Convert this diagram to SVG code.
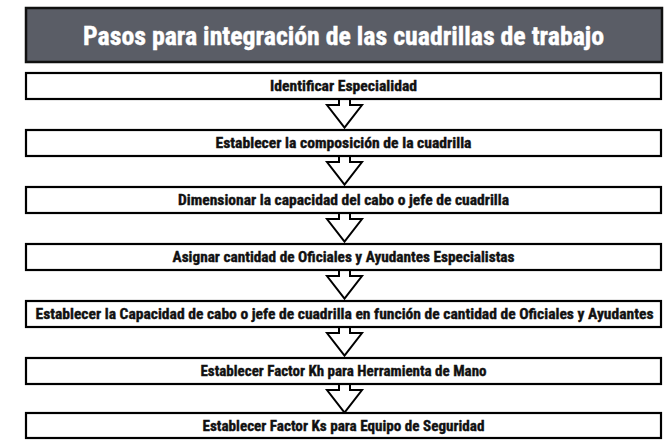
<svg xmlns="http://www.w3.org/2000/svg" width="668" height="440" viewBox="0 0 668 440">
<defs>
<style>
.bg{fill:#ffffff}
.title{fill:#5a5d66;stroke:#111;stroke-width:2.5}
.ttl{font-family:"Roboto Condensed",Roboto,"Liberation Sans",sans-serif;font-weight:bold;font-size:26px;fill:#ffffff;stroke:#ffffff;stroke-width:0.4;text-anchor:middle}
.box{fill:#ffffff;stroke:#000;stroke-width:2.2}
.lbl{font-family:"Roboto Condensed",Roboto,"Liberation Sans",sans-serif;font-weight:bold;font-size:14px;fill:#111;stroke:#111;stroke-width:0.35;text-anchor:middle}
.arr{fill:#ffffff;stroke:#000;stroke-width:2;stroke-linejoin:miter}
</style>
<path id="a" class="arr" d="M339,0 V6 H327 L344.5,28.5 L362,6 H350 V0"/>
</defs>
<rect class="bg" width="668" height="440"/>
<g id="title">
<rect class="title" x="26" y="8" width="636" height="54"/>
<text class="ttl" x="343.5" y="44.5" textLength="521" lengthAdjust="spacingAndGlyphs">Pasos para integración de las cuadrillas de trabajo</text>
</g>
<g id="connectors">
<use href="#a" y="99"/>
<use href="#a" y="156"/>
<use href="#a" y="213"/>
<use href="#a" y="270"/>
<use href="#a" y="327"/>
<use href="#a" y="384"/>
</g>
<g id="n1">
<rect class="box" x="26" y="73" width="635" height="26"/>
<text class="lbl" x="343.5" y="91" textLength="147" lengthAdjust="spacingAndGlyphs">Identificar Especialidad</text>
</g>
<g id="n2">
<rect class="box" x="26" y="130" width="635" height="26"/>
<text class="lbl" x="343.5" y="148" textLength="256" lengthAdjust="spacingAndGlyphs">Establecer la composición de la cuadrilla</text>
</g>
<g id="n3">
<rect class="box" x="26" y="187" width="635" height="26"/>
<text class="lbl" x="343.5" y="205" textLength="331" lengthAdjust="spacingAndGlyphs">Dimensionar la capacidad del cabo o jefe de cuadrilla</text>
</g>
<g id="n4">
<rect class="box" x="26" y="244" width="635" height="26"/>
<text class="lbl" x="343.5" y="262" textLength="342" lengthAdjust="spacingAndGlyphs">Asignar cantidad de Oficiales y Ayudantes Especialistas</text>
</g>
<g id="n5">
<rect class="box" x="26" y="301" width="635" height="26"/>
<text class="lbl" x="344.5" y="319" textLength="618" lengthAdjust="spacingAndGlyphs">Establecer la Capacidad de cabo o jefe de cuadrilla en función de cantidad de Oficiales y Ayudantes</text>
</g>
<g id="n6">
<rect class="box" x="26" y="358" width="635" height="26"/>
<text class="lbl" x="343.5" y="376" textLength="286" lengthAdjust="spacingAndGlyphs">Establecer Factor Kh para Herramienta de Mano</text>
</g>
<g id="n7">
<rect class="box" x="26" y="413" width="635" height="25"/>
<text class="lbl" x="343.5" y="431" textLength="282" lengthAdjust="spacingAndGlyphs">Establecer Factor Ks para Equipo de Seguridad</text>
</g>
</svg>
